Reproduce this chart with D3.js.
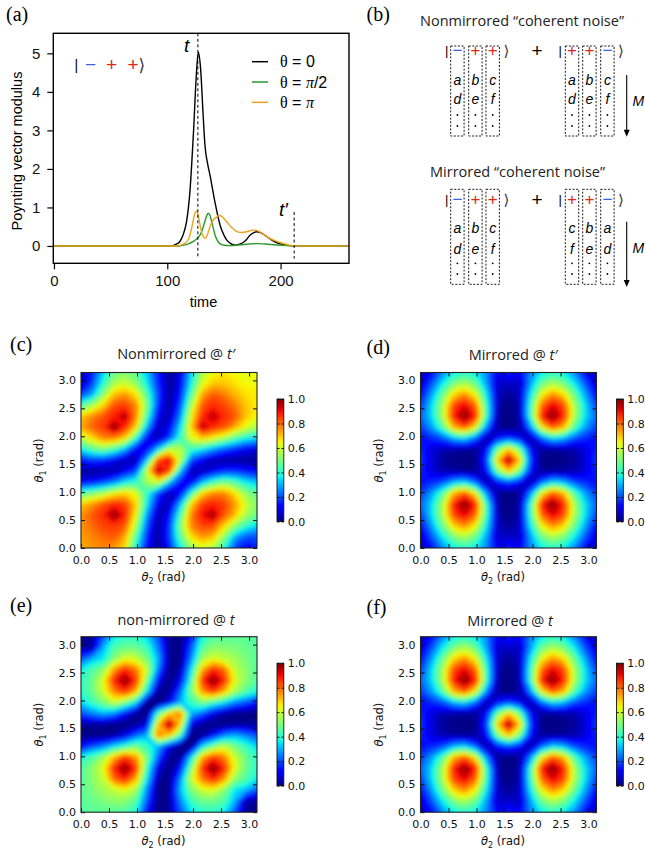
<!DOCTYPE html>
<html>
<head>
<meta charset="utf-8">
<script src="https://cdn.jsdelivr.net/npm/d3@7"></script>
<style>
body { margin: 0; background: #fff; }
</style>
</head>
<body>
<script>
// ---------- (a) Poynting vector modulus vs time, pairs are [time, value] ----------
var curveTheta0 = [[0,0],[100,0],[105,0.01],[108,0.05],[111,0.11],[114,0.29],[117,0.63],[120,1.41],[123,2.88],[126,4.6],[127.4,5.03],
  [129.4,4.61],[131.8,3.32],[133.3,2.6],[135.5,2.15],[137.7,1.84],[142,1.15],[146.5,0.55],[150,0.28],[152.4,0.16],[156,0.06],
  [160,0.02],[164,0.05],[167,0.09],[170,0.17],[173,0.28],[176,0.34],[179,0.37],[182,0.35],[185,0.3],[188,0.24],[192,0.16],
  [197,0.08],[202,0.04],[208,0.01],[215,0],[260,0]];
var curveThetaHalfPi = [[0,0],[110,0],[114,0.02],[118,0.05],[123,0.12],[126,0.19],[128.9,0.28],[131,0.42],[133.3,0.65],[135,0.8],
  [136.2,0.85],[137.7,0.79],[139.2,0.63],[140.7,0.45],[142.1,0.29],[144,0.15],[146.5,0.06],[150,0.02],[155,0.01],[165,0.03],
  [172,0.05],[179,0.06],[186,0.05],[195,0.03],[205,0.01],[215,0],[260,0]];
var curveThetaPi = [[0,0],[108,0],[112,0.02],[115,0.06],[118.5,0.16],[121.5,0.46],[123,0.68],[124.4,0.85],[125.9,0.91],[127.4,0.78],
  [128.9,0.55],[130.3,0.36],[131.8,0.24],[133.6,0.2],[135.5,0.3],[137.7,0.5],[140,0.65],[142.1,0.72],[145.9,0.79],[148.5,0.76],
  [150.9,0.68],[154,0.57],[156.8,0.48],[160,0.4],[162.7,0.36],[166,0.35],[170,0.37],[175.9,0.41],[179,0.4],[181.8,0.36],
  [186,0.28],[190.6,0.2],[195,0.14],[199.5,0.09],[204,0.05],[208.3,0.02],[215,0],[260,0]];
var timeTicks = [0, 100, 200];
var modulusTicks = [0, 1, 2, 3, 4, 5];
var markT = 127, markTPrime = 212;
var legendNames = ["0", "π/2", "π"];
var legendColors = ["#000000", "#2a9a2a", "#f2a11c"];

// ---------- (b) ket diagrams ----------
var ketLeft = ["−", "+", "+"];
var ketRight = ["+", "+", "−"];
var lettersPlain = [["a", "b", "c"], ["d", "e", "f"]];
var lettersMirror = [["c", "b", "a"], ["f", "e", "d"]];

// ---------- (c)-(f) maps: 17 x 17 samples, theta = k*pi/16 ----------
// rows go from theta1 = pi (top) to theta1 = 0, columns theta2 = 0 .. pi
var nonmirroredTPrime = [
  [0.05,0.15,0.33,0.48,0.51,0.46,0.32,0.14,0.02,0.08,0.33,0.56,0.64,0.66,0.64,0.63,0.64],
  [0.03,0.18,0.4,0.56,0.6,0.53,0.36,0.16,0.02,0.1,0.37,0.62,0.7,0.7,0.67,0.64,0.64],
  [0.18,0.29,0.52,0.71,0.75,0.67,0.45,0.19,0.02,0.13,0.45,0.73,0.82,0.78,0.72,0.67,0.66],
  [0.45,0.55,0.68,0.83,0.85,0.77,0.5,0.16,0.02,0.18,0.56,0.82,0.87,0.84,0.78,0.7,0.66],
  [0.7,0.77,0.83,0.88,0.97,0.77,0.43,0.1,0.04,0.25,0.64,0.87,0.96,0.87,0.82,0.7,0.64],
  [0.73,0.81,0.85,1,0.87,0.68,0.3,0.05,0.1,0.34,0.69,0.97,0.87,0.83,0.73,0.62,0.56],
  [0.58,0.67,0.77,0.77,0.68,0.41,0.1,0.04,0.18,0.41,0.63,0.69,0.64,0.56,0.45,0.37,0.33],
  [0.36,0.45,0.5,0.43,0.3,0.1,0.12,0.33,0.6,0.58,0.41,0.36,0.27,0.2,0.15,0.1,0.08],
  [0.14,0.17,0.16,0.1,0.05,0.04,0.33,0.85,0.93,0.6,0.2,0.1,0.04,0.02,0.02,0.02,0.02],
  [0.02,0.02,0.02,0.04,0.1,0.2,0.62,0.98,0.85,0.33,0.04,0.05,0.1,0.16,0.17,0.14,0.12],
  [0.1,0.13,0.18,0.25,0.36,0.41,0.55,0.62,0.33,0.14,0.1,0.3,0.43,0.5,0.45,0.36,0.32],
  [0.45,0.5,0.56,0.64,0.69,0.63,0.41,0.18,0.04,0.1,0.41,0.68,0.77,0.77,0.67,0.53,0.46],
  [0.7,0.75,0.83,0.88,0.85,0.69,0.36,0.1,0.05,0.3,0.68,0.85,0.88,0.85,0.75,0.6,0.51],
  [0.75,0.82,0.87,1,0.88,0.64,0.27,0.04,0.11,0.43,0.77,0.9,0.98,0.82,0.71,0.56,0.48],
  [0.75,0.8,0.84,0.85,0.82,0.56,0.2,0.02,0.16,0.5,0.77,0.84,0.83,0.68,0.52,0.4,0.33],
  [0.74,0.77,0.8,0.82,0.73,0.45,0.15,0.02,0.17,0.45,0.67,0.75,0.71,0.52,0.29,0.2,0.2],
  [0.73,0.75,0.77,0.75,0.67,0.37,0.12,0.02,0.14,0.36,0.53,0.6,0.56,0.4,0.18,0.12,0.15]
];
var mirroredTPrime = [
  [0.05,0.12,0.26,0.36,0.4,0.36,0.26,0.1,0.16,0.1,0.26,0.36,0.4,0.36,0.26,0.12,0.05],
  [0.08,0.2,0.36,0.5,0.56,0.48,0.28,0.06,0.06,0.06,0.28,0.48,0.56,0.5,0.36,0.2,0.08],
  [0.12,0.28,0.48,0.68,0.76,0.64,0.36,0.05,0.02,0.05,0.36,0.64,0.76,0.68,0.48,0.28,0.12],
  [0.18,0.34,0.56,0.84,0.92,0.8,0.42,0.04,0,0.04,0.42,0.8,0.92,0.84,0.56,0.34,0.18],
  [0.22,0.34,0.56,0.88,1,0.88,0.42,0.03,0,0.03,0.42,0.88,1,0.88,0.56,0.34,0.22],
  [0.18,0.28,0.45,0.72,0.82,0.64,0.26,0.02,0,0.02,0.26,0.64,0.82,0.72,0.45,0.28,0.18],
  [0.14,0.16,0.2,0.3,0.34,0.22,0.04,0.12,0.18,0.12,0.04,0.22,0.34,0.3,0.2,0.16,0.14],
  [0.16,0.08,0.04,0.03,0.02,0.02,0.12,0.5,0.7,0.5,0.12,0.02,0.02,0.03,0.04,0.08,0.16],
  [0.18,0.08,0.02,0,0,0,0.18,0.7,1,0.7,0.18,0,0,0,0.02,0.08,0.18],
  [0.16,0.08,0.04,0.03,0.02,0.02,0.12,0.5,0.7,0.5,0.12,0.02,0.02,0.03,0.04,0.08,0.16],
  [0.14,0.16,0.2,0.3,0.34,0.22,0.04,0.12,0.18,0.12,0.04,0.22,0.34,0.3,0.2,0.16,0.14],
  [0.18,0.28,0.45,0.72,0.82,0.64,0.26,0.02,0,0.02,0.26,0.64,0.82,0.72,0.45,0.28,0.18],
  [0.22,0.34,0.56,0.88,1,0.88,0.42,0.03,0,0.03,0.42,0.88,1,0.88,0.56,0.34,0.22],
  [0.18,0.34,0.56,0.84,0.92,0.8,0.42,0.04,0,0.04,0.42,0.8,0.92,0.84,0.56,0.34,0.18],
  [0.12,0.28,0.48,0.68,0.76,0.64,0.36,0.05,0.02,0.05,0.36,0.64,0.76,0.68,0.48,0.28,0.12],
  [0.08,0.2,0.36,0.5,0.56,0.48,0.28,0.06,0.06,0.06,0.28,0.48,0.56,0.5,0.36,0.2,0.08],
  [0.05,0.12,0.26,0.36,0.4,0.36,0.26,0.1,0.16,0.1,0.26,0.36,0.4,0.36,0.26,0.12,0.05]
];
var nonmirroredT = [
  [0,0.03,0.2,0.36,0.4,0.4,0.34,0.2,0.02,0,0.12,0.38,0.45,0.45,0.46,0.46,0.45],
  [0.03,0.02,0.3,0.45,0.48,0.48,0.42,0.25,0.02,0,0.2,0.45,0.52,0.52,0.5,0.48,0.46],
  [0.2,0.3,0.35,0.52,0.62,0.6,0.5,0.3,0.02,0,0.25,0.55,0.62,0.58,0.55,0.5,0.46],
  [0.36,0.45,0.52,0.75,0.88,0.78,0.6,0.25,0,0.03,0.35,0.72,0.88,0.8,0.58,0.52,0.45],
  [0.4,0.48,0.62,0.88,1,0.86,0.5,0.12,0,0.09,0.42,0.86,1,0.88,0.62,0.52,0.45],
  [0.4,0.48,0.6,0.78,0.86,0.72,0.35,0.02,0.02,0.22,0.5,0.75,0.86,0.72,0.55,0.45,0.38],
  [0.34,0.42,0.5,0.6,0.5,0.35,0,0,0.09,0.3,0.42,0.5,0.42,0.35,0.25,0.2,0.12],
  [0.2,0.25,0.3,0.25,0.12,0.02,0,0.45,0.7,0.8,0.3,0.22,0.09,0.03,0,0,0],
  [0.02,0.02,0.02,0,0,0.02,0.09,0.7,1,0.7,0.09,0.02,0,0,0.02,0.02,0.02],
  [0,0,0,0.03,0.09,0.22,0.3,0.8,0.7,0.45,0,0.02,0.12,0.25,0.3,0.25,0.2],
  [0.12,0.2,0.25,0.35,0.42,0.5,0.42,0.3,0.09,0,0,0.35,0.5,0.6,0.5,0.42,0.34],
  [0.38,0.45,0.55,0.72,0.86,0.75,0.5,0.22,0.02,0.02,0.35,0.72,0.86,0.78,0.6,0.48,0.4],
  [0.45,0.52,0.62,0.88,1,0.86,0.42,0.09,0,0.12,0.5,0.86,1,0.88,0.62,0.48,0.4],
  [0.45,0.52,0.58,0.8,0.88,0.72,0.35,0.03,0,0.25,0.6,0.78,0.88,0.75,0.52,0.45,0.36],
  [0.46,0.5,0.55,0.58,0.62,0.55,0.25,0,0.02,0.3,0.5,0.6,0.62,0.52,0.35,0.3,0.2],
  [0.46,0.48,0.5,0.52,0.52,0.45,0.2,0,0.02,0.25,0.42,0.48,0.48,0.45,0.3,0.02,0.03],
  [0.45,0.46,0.46,0.45,0.45,0.38,0.12,0,0.02,0.2,0.34,0.4,0.4,0.36,0.2,0.03,0]
];
// (f) reads the same as (d)
var mirroredT = mirroredTPrime;
var thetaTicks = [0, 0.5, 1, 1.5, 2, 2.5, 3];
var cbarTicks = [0, 0.2, 0.4, 0.6, 0.8, 1];

// ---------- setup ----------
var svg = d3.select("body").append("svg")
  .attr("width", 645)
  .attr("height", 858)
  .style("font-family", "'Liberation Sans', Arial, sans-serif");
svg.append("rect").attr("width", 645).attr("height", 858).attr("fill", "#fff");
var defs = svg.append("defs");

function panelLabel(txt, x, y) {
  svg.append("text").attr("x", x).attr("y", y)
    .style("font-family", "'Liberation Serif', serif")
    .style("font-size", "20px")
    .text(txt);
}

// ---------- panel (a) ----------
var ax = d3.scaleLinear().domain([-0.6, 260.4]).range([53.3, 349]);
var ay = d3.scaleLinear().domain([-0.45, 5.52]).range([263.3, 33.3]);

var ga = svg.append("g");
var yAxisA = ga.append("g").attr("transform", "translate(53.3,0)")
  .call(d3.axisLeft(ay).tickValues(modulusTicks).tickSize(6).tickPadding(7).tickFormat(d3.format("d")));
var xAxisA = ga.append("g").attr("transform", "translate(0,263.3)")
  .call(d3.axisBottom(ax).tickValues(timeTicks).tickSize(6).tickPadding(6).tickFormat(d3.format("d")));
[yAxisA, xAxisA].forEach(function(a) {
  a.select(".domain").remove();
  a.selectAll("line").attr("stroke", "#000").attr("stroke-width", 1.2);
  a.selectAll("text").style("font-family", "'Liberation Sans', Arial, sans-serif").style("font-size", "15px").attr("fill", "#111");
});

var line = d3.line()
  .x(function(d) { return ax(d[0]); })
  .y(function(d) { return ay(d[1]); })
  .curve(d3.curveMonotoneX);
[curveTheta0, curveThetaHalfPi, curveThetaPi].forEach(function(c, i) {
  ga.append("path").attr("d", line(c)).attr("fill", "none")
    .attr("stroke", legendColors[i]).attr("stroke-width", 1.4);
});

// dashed markers for t and t'
ga.append("line").attr("x1", ax(markT)).attr("x2", ax(markT))
  .attr("y1", ay(5.52)).attr("y2", ay(-0.33))
  .attr("stroke", "#000").attr("stroke-width", 1).attr("stroke-dasharray", "3,2.5");
ga.append("line").attr("x1", ax(markTPrime)).attr("x2", ax(markTPrime))
  .attr("y1", ay(0.88)).attr("y2", ay(-0.33))
  .attr("stroke", "#000").attr("stroke-width", 1).attr("stroke-dasharray", "3,2.5");
ga.append("text").attr("x", 184).attr("y", 52).style("font-style", "italic").style("font-size", "19px").text("t");
ga.append("text").attr("x", 279).attr("y", 216).style("font-style", "italic").style("font-size", "19px").text("t′");

ga.append("rect").attr("x", 53.3).attr("y", 33.3).attr("width", 349 - 53.3).attr("height", 230)
  .attr("fill", "none").attr("stroke", "#000").attr("stroke-width", 1.4);

// legend
legendNames.forEach(function(name, i) {
  var ly = 61.7 + i * 20.3;
  ga.append("line").attr("x1", 252).attr("x2", 268).attr("y1", ly).attr("y2", ly)
    .attr("stroke", legendColors[i]).attr("stroke-width", 1.5);
  var t = ga.append("text").attr("x", 280).attr("y", ly + 5.5).style("font-size", "16px");
  t.append("tspan").style("font-family", "'Liberation Serif', serif").text("θ");
  t.append("tspan").text(" = ");
  if (name === "0") t.append("tspan").text(name);
  else if (name === "π/2") {
    t.append("tspan").style("font-family", "'Liberation Serif', serif").style("font-style", "italic").text("π");
    t.append("tspan").text("/2");
  } else t.append("tspan").style("font-family", "'Liberation Serif', serif").style("font-style", "italic").text("π");
});

// ket |- + +>
ga.append("text").attr("x", 74.5).attr("y", 70).style("font-size", "14px").text("|");
[["−", 85, "#3a5ee8"], ["+", 106, "#e0261c"], ["+", 127.5, "#e0261c"]].forEach(function(s) {
  ga.append("text").attr("x", s[1]).attr("y", 71).style("font-size", "19px").attr("fill", s[2]).text(s[0]);
});
ga.append("text").attr("x", 138.5).attr("y", 71).style("font-family", "'DejaVu Sans', sans-serif").style("font-size", "17px").attr("fill", "#333").text("⟩");

ga.append("text").attr("transform", "translate(16.7,151) rotate(-90)")
  .attr("text-anchor", "middle").attr("dy", "0.35em").style("font-size", "14.5px").text("Poynting vector modulus");
ga.append("text").attr("x", 203.5).attr("y", 307).attr("text-anchor", "middle").style("font-size", "14.5px").text("time");

panelLabel("(a)", 6, 21);

// ---------- panel (b) ----------
panelLabel("(b)", 366.5, 21);
var boxXLeft = [450.7, 468.7, 486];
var boxXRight = [565.3, 582.7, 600.7];
var boxW = 13.4;
var blocks = [
  {title: "Nonmirrored “coherent noise”", tx: 420, ty: 26, sign: 56.3, bTop: 46, bBot: 136, rows: [85, 104.3], dots: [115, 126], arrow: [75, 136.7], m: 105.5, right: lettersPlain},
  {title: "Mirrored “coherent noise”", tx: 430, ty: 177, sign: 204.6, bTop: 189.3, bBot: 284.3, rows: [232.7, 254], dots: [263.3, 274], arrow: [221.7, 287], m: 253, right: lettersMirror}
];
blocks.forEach(function(b) {
  svg.append("text").attr("x", b.tx).attr("y", b.ty)
    .style("font-family", "'Open Sans', sans-serif").style("font-size", "14.5px").attr("fill", "#222").text(b.title);
  [[boxXLeft, ketLeft, lettersPlain, 445], [boxXRight, ketRight, b.right, 558.5]].forEach(function(k) {
    var xs = k[0];
    svg.append("text").attr("x", k[3]).attr("y", b.sign - 1).style("font-size", "13px").text("|");
    xs.forEach(function(x, i) {
      svg.append("rect").attr("x", x).attr("y", b.bTop).attr("width", boxW).attr("height", b.bBot - b.bTop)
        .attr("fill", "none").attr("stroke", "#000").attr("stroke-width", 0.9).attr("stroke-dasharray", "2,1.6");
      var cx = x + boxW / 2;
      svg.append("text").attr("x", cx).attr("y", b.sign).attr("text-anchor", "middle")
        .style("font-size", "17px").attr("fill", k[1][i] === "+" ? "#e0261c" : "#3a5ee8").text(k[1][i]);
      k[2].forEach(function(row, r) {
        svg.append("text").attr("x", cx).attr("y", b.rows[r]).attr("text-anchor", "middle")
          .style("font-size", "14px").style("font-style", "italic").text(row[i]);
      });
      b.dots.forEach(function(dy) {
        svg.append("circle").attr("cx", cx).attr("cy", dy).attr("r", 0.9).attr("fill", "#000");
      });
    });
    svg.append("text").attr("x", xs[2] + boxW + 4).attr("y", b.sign).style("font-family", "'DejaVu Sans', sans-serif")
      .style("font-size", "15px").attr("fill", "#333").text("⟩");
  });
  svg.append("text").attr("x", 537).attr("y", b.sign + 1).attr("text-anchor", "middle").style("font-size", "19px").text("+");
  svg.append("line").attr("x1", 626.7).attr("x2", 626.7).attr("y1", b.arrow[0]).attr("y2", b.arrow[1] - 5)
    .attr("stroke", "#000").attr("stroke-width", 1.1);
  svg.append("path").attr("d", "M623.7," + (b.arrow[1] - 7) + "L629.7," + (b.arrow[1] - 7) + "L626.7," + b.arrow[1] + "Z")
    .attr("fill", "#000");
  svg.append("text").attr("x", 632.5).attr("y", b.m).style("font-size", "14px").style("font-style", "italic").text("M");
});

// ---------- panels (c)-(f) ----------
var jet = d3.scaleLinear()
  .domain([0, 0.11, 0.125, 0.34, 0.35, 0.375, 0.64, 0.65, 0.66, 0.89, 0.91, 1])
  .range(["rgb(0,0,128)", "rgb(0,0,255)", "rgb(0,0,255)", "rgb(0,219,255)", "rgb(0,230,247)", "rgb(20,255,226)",
          "rgb(238,255,8)", "rgb(247,245,0)", "rgb(255,236,0)", "rgb(255,19,0)", "rgb(232,0,0)", "rgb(128,0,0)"])
  .clamp(true);
var levels = d3.range(0, 1, 1 / 96);

var grad = defs.append("linearGradient").attr("id", "jetGrad")
  .attr("x1", 0).attr("y1", 1).attr("x2", 0).attr("y2", 0);
d3.range(0, 1.0001, 0.025).forEach(function(v) {
  grad.append("stop").attr("offset", v).attr("stop-color", jet(v));
});
defs.append("filter").attr("id", "soft")
  .attr("x", -0.05).attr("y", -0.05).attr("width", 1.1).attr("height", 1.1)
  .append("feGaussianBlur").attr("stdDeviation", 2.2);

var mapW = 176, mapH = 175.5;
var cbW = 6.8, cbH = 122.5;
var tickFont = "'DejaVu Sans', sans-serif";

var maps = [
  {id: "c", label: "(c)", lx: 10, ly: 350.5, x0: 81, y0: 372.5, grid: nonmirroredTPrime, title: ["Nonmirrored @ ", "t′"], tcx: 176, tby: 359},
  {id: "d", label: "(d)", lx: 366.5, ly: 353.5, x0: 420.5, y0: 372.5, grid: mirroredTPrime, title: ["Mirrored @ ", "t′"], tcx: 513, tby: 360},
  {id: "e", label: "(e)", lx: 10, ly: 611.5, x0: 81, y0: 636.7, grid: nonmirroredT, title: ["non-mirrored @ ", "t"], tcx: 176, tby: 625},
  {id: "f", label: "(f)", lx: 366.5, ly: 613.5, x0: 420.5, y0: 636.7, grid: mirroredT, title: ["Mirrored @ ", "t"], tcx: 510, tby: 626}
];

maps.forEach(function(p) {
  panelLabel(p.label, p.lx, p.ly);
  var tt = svg.append("text").attr("x", p.tcx).attr("y", p.tby).attr("text-anchor", "middle")
    .style("font-family", "'Open Sans', sans-serif").style("font-size", "14.5px").attr("fill", "#222");
  tt.append("tspan").text(p.title[0]);
  tt.append("tspan").style("font-style", "italic").text(p.title[1]);

  var g = svg.append("g").attr("transform", "translate(" + p.x0 + "," + p.y0 + ")");
  var n = p.grid.length, step = Math.PI / (n - 1);
  var sx = d3.scaleLinear().domain([0, Math.PI]).range([0, mapW]);
  var sy = d3.scaleLinear().domain([0, Math.PI]).range([mapH, 0]);
  var contours = d3.contours().size([n, n]).thresholds(levels)(p.grid.flat());
  var proj = d3.geoTransform({
    point: function(u, v) {
      this.stream.point(sx((u - 0.5) * step), sy(Math.PI - (v - 0.5) * step));
    }
  });
  defs.append("clipPath").attr("id", "clip" + p.id)
    .append("rect").attr("width", mapW).attr("height", mapH);
  g.append("g").attr("clip-path", "url(#clip" + p.id + ")")
    .append("g").attr("filter", "url(#soft)")
    .selectAll("path").data(contours).enter().append("path")
    .attr("d", d3.geoPath(proj))
    .attr("fill", function(d) { return jet(d.value + 0.5 / 96); });

  var fmt = d3.format(".1f");
  var axB = g.append("g").attr("transform", "translate(0," + mapH + ")")
    .call(d3.axisBottom(sx).tickValues(thetaTicks).tickSizeInner(-4).tickSizeOuter(0).tickPadding(8).tickFormat(fmt));
  var axL = g.append("g")
    .call(d3.axisLeft(sy).tickValues(thetaTicks).tickSizeInner(-4).tickSizeOuter(0).tickPadding(5).tickFormat(fmt));
  var axT = g.append("g")
    .call(d3.axisTop(sx).tickValues(thetaTicks).tickSizeInner(-4).tickSizeOuter(0).tickFormat(""));
  var axR = g.append("g").attr("transform", "translate(" + mapW + ",0)")
    .call(d3.axisRight(sy).tickValues(thetaTicks).tickSizeInner(-4).tickSizeOuter(0).tickFormat(""));
  [axB, axL, axT, axR].forEach(function(a) {
    a.select(".domain").remove();
    a.selectAll("line").attr("stroke", "#111").attr("stroke-width", 1);
    a.selectAll("text").style("font-family", tickFont).style("font-size", "11px").attr("fill", "#111");
  });
  g.append("rect").attr("width", mapW).attr("height", mapH)
    .attr("fill", "none").attr("stroke", "#222").attr("stroke-width", 1.1);

  var xl = g.append("text").attr("x", 82.5).attr("y", mapH + 32.5).attr("text-anchor", "middle")
    .style("font-family", tickFont).style("font-size", "11.5px").attr("fill", "#111");
  xl.append("tspan").style("font-style", "italic").text("θ");
  xl.append("tspan").attr("dy", 3).style("font-size", "8px").text("2");
  xl.append("tspan").attr("dy", -3).text(" (rad)");
  var yl = g.append("text").attr("transform", "translate(-38,88) rotate(-90)").attr("text-anchor", "middle")
    .style("font-family", tickFont).style("font-size", "11.5px").attr("fill", "#111");
  yl.append("tspan").style("font-style", "italic").text("θ");
  yl.append("tspan").attr("dy", 3).style("font-size", "8px").text("1");
  yl.append("tspan").attr("dy", -3).text(" (rad)");

  // colour bar
  var cb = g.append("g").attr("transform", "translate(196,26.5)");
  var cs = d3.scaleLinear().domain([0, 1]).range([cbH, 0]);
  cb.append("rect").attr("width", cbW).attr("height", cbH).attr("fill", "url(#jetGrad)");
  var cbR = cb.append("g").attr("transform", "translate(" + cbW + ",0)")
    .call(d3.axisRight(cs).tickValues(cbarTicks).tickSizeInner(-2.5).tickSizeOuter(0).tickPadding(4).tickFormat(fmt));
  var cbL = cb.append("g")
    .call(d3.axisLeft(cs).tickValues(cbarTicks).tickSizeInner(-2.5).tickSizeOuter(0).tickFormat(""));
  [cbR, cbL].forEach(function(a) {
    a.select(".domain").remove();
    a.selectAll("line").attr("stroke", "#111").attr("stroke-width", 0.9);
    a.selectAll("text").style("font-family", tickFont).style("font-size", "11px").attr("fill", "#111");
  });
  cb.append("rect").attr("width", cbW).attr("height", cbH)
    .attr("fill", "none").attr("stroke", "#111").attr("stroke-width", 0.9);
});
</script>
</body>
</html>
